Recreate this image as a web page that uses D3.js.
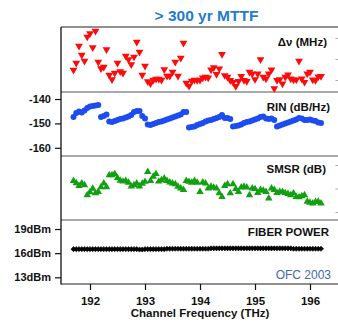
<!DOCTYPE html>
<html><head><meta charset="utf-8">
<script src="https://cdn.jsdelivr.net/npm/d3@7"></script>
<style>
html,body{margin:0;padding:0;background:#fff;}
svg{display:block;font-family:"Liberation Sans",Arial,sans-serif;}
</style></head>
<body>
<svg id="c" width="338" height="322"></svg>
<script>
// Channel frequencies (THz)
const freqs = [
191.70,191.75,191.80,191.85,191.90,191.95,192.00,192.05,192.10,192.15,
192.20,192.25,192.30,192.35,192.40,192.45,192.50,192.55,192.60,192.65,
192.70,192.75,192.80,192.85,192.90,192.95,193.00,193.05,193.10,193.15,
193.20,193.25,193.30,193.35,193.40,193.45,193.50,193.55,193.60,193.65,
193.70,193.75,193.80,193.85,193.90,193.95,194.00,194.05,194.10,194.15,
194.20,194.25,194.30,194.35,194.40,194.45,194.50,194.55,194.60,194.65,
194.70,194.75,194.80,194.85,194.90,194.95,195.00,195.05,195.10,195.15,
195.20,195.25,195.30,195.35,195.40,195.45,195.50,195.55,195.60,195.65,
195.70,195.75,195.80,195.85,195.90,195.95,196.00,196.05,196.10,196.15,
196.20];

// Linewidth Δν (MHz)
const linewidth = [
1.48,1.81,2.62,2.19,1.90,3.05,3.21,2.55,3.33,1.86,
1.55,1.62,2.45,1.24,1.02,1.33,1.81,1.40,1.33,2.14,
1.98,1.74,2.10,2.81,2.33,1.24,1.67,0.93,0.83,1.00,
1.05,1.05,1.00,1.50,1.19,1.19,1.38,1.86,1.19,2.05,
2.76,0.86,0.71,0.95,1.00,0.99,1.00,1.11,1.14,1.11,
1.49,1.59,1.27,1.54,2.22,1.22,1.14,0.99,0.90,0.70,
0.94,1.18,0.99,0.94,1.38,1.30,1.03,1.30,1.97,1.14,
1.06,1.30,1.49,0.60,0.99,1.03,0.82,1.14,1.25,1.06,
1.01,1.01,1.90,1.06,0.90,1.30,1.38,1.01,0.99,1.16,
1.18];

// RIN (dB/Hz)
const rin = [
-147.4,-145.7,-145.1,-145.5,-144.7,-143.7,-143.1,-142.9,-142.7,-142.5,
-147.4,-147.0,-146.4,-149.2,-149.4,-149.0,-148.6,-148.2,-148.0,-147.6,
-147.2,-146.6,-145.3,-144.9,-144.9,-147.0,-148.0,-150.5,-150.7,-150.2,
-149.8,-149.4,-149.2,-148.8,-148.4,-148.0,-147.6,-147.2,-146.8,-146.4,
-145.3,-145.3,-151.7,-151.5,-151.3,-150.7,-150.2,-149.8,-149.2,-148.8,
-148.6,-148.2,-147.8,-147.4,-146.6,-147.8,-147.8,-148.2,-151.3,-151.1,
-150.9,-150.5,-149.8,-149.4,-149.2,-148.8,-148.4,-148.0,-147.4,-147.2,
-148.0,-148.2,-148.0,-148.6,-151.3,-150.9,-150.5,-150.0,-149.6,-149.2,
-148.8,-148.4,-147.8,-148.0,-148.6,-148.6,-148.4,-148.8,-149.0,-149.6,
-149.8];

// SMSR (dB)
const smsr = [
43.3,42.3,41.1,42.2,41.5,37.2,38.5,40.0,38.0,38.6,
40.6,42.2,40.6,45.7,45.7,46.2,44.5,43.4,43.0,43.3,
42.5,40.9,41.5,42.2,40.9,42.1,42.9,47.1,43.3,45.1,
46.2,43.0,43.6,44.3,43.3,42.6,42.2,41.9,40.8,40.1,
39.4,43.3,42.9,42.5,43.3,42.5,38.6,42.6,42.2,40.1,
40.8,40.4,40.1,38.0,36.5,41.1,41.9,38.0,41.9,39.8,
38.6,40.5,40.8,40.5,37.2,40.1,39.8,38.2,39.4,39.1,
38.6,35.8,40.1,39.4,38.2,38.6,38.6,38.1,37.7,37.2,
38.0,36.5,36.3,36.8,37.2,34.4,34.0,33.7,34.3,34.4,
33.7];

// Fiber power (dBm)
const fiberPower = [
16.5,16.5,16.5,16.5,16.5,16.5,16.5,16.5,16.5,16.5,
16.5,16.5,16.5,16.5,16.5,16.5,16.5,16.5,16.5,16.5,
16.5,16.5,16.5,16.5,16.45,16.45,16.5,16.5,16.5,16.5,
16.5,16.5,16.5,16.5,16.55,16.55,16.55,16.55,16.55,16.55,
16.55,16.55,16.55,16.55,16.55,16.55,16.55,16.55,16.55,16.55,
16.6,16.6,16.6,16.6,16.6,16.6,16.6,16.6,16.6,16.6,
16.6,16.6,16.6,16.6,16.6,16.6,16.6,16.6,16.6,16.6,
16.6,16.6,16.6,16.6,16.6,16.6,16.6,16.6,16.6,16.6,
16.55,16.55,16.55,16.55,16.55,16.55,16.55,16.55,16.55,16.55,
16.55];

const xTicks = [192,193,194,195,196];
const rinTicks = [-140,-150,-160];
const powerTicks = [19,16,13];
const powerTickLabels = ["19dBm","16dBm","13dBm"];
const dvRightTicks = [1,2,3];
const smsrRightTicks = [30,40,50];

const svg = d3.select("#c");
const L = 61, R = 338;
const x = d3.scaleLinear().domain([191.4727,196.509]).range([L,R]);

const yDv = d3.scaleLinear().domain([0.43,3.52]).range([92,27]);
const yRin = d3.scaleLinear().domain([-163.36,-137.13]).range([156,92]);
const ySmsr = d3.scaleLinear().domain([26.6,53.83]).range([220,156]);
const yPow = d3.scaleLinear().domain([12.17,20.12]).range([284,220]);

// horizontal separators
[27,92,156,220,284].forEach(yy=>{
  svg.append("line").attr("x1",L).attr("x2",R).attr("y1",yy).attr("y2",yy)
    .attr("stroke",yy===284||yy===27?"#222":"#555").attr("stroke-width",1.2);
});
svg.append("line").attr("x1",L).attr("x2",L).attr("y1",27).attr("y2",284.6)
  .attr("stroke","#111").attr("stroke-width",1.3);

// right side faint ticks
function rightTicks(scale, ticks){
  svg.append("g").attr("transform",`translate(${R},0)`)
    .call(d3.axisLeft(scale).tickValues(ticks).tickSize(2.5).tickFormat(""))
    .call(g=>{g.select(".domain").remove(); g.selectAll("line").attr("stroke","#aaa");});
}
rightTicks(yDv, dvRightTicks);
rightTicks(ySmsr, smsrRightTicks);

// left axes
function leftAxis(scale, ticks, fmt){
  const g = svg.append("g").attr("transform",`translate(${L},0)`)
    .call(d3.axisLeft(scale).tickValues(ticks).tickSize(6).tickPadding(4).tickFormat(fmt));
  g.select(".domain").remove();
  g.selectAll("line").attr("stroke","#111").attr("stroke-width",1.2);
  g.selectAll("text").attr("font-family","Liberation Sans, Arial, sans-serif")
    .attr("font-size","11px").attr("font-weight","bold").attr("fill","#111");
}
leftAxis(yRin, rinTicks, d=>d3.format("d")(d).replace("−","-"));
leftAxis(yPow, powerTicks, (d,i)=>powerTickLabels[i]);

// x axis
const gx = svg.append("g").attr("transform","translate(0,284)")
  .call(d3.axisBottom(x).tickValues(xTicks).tickSize(6).tickPadding(7).tickFormat(d3.format("d")));
gx.select(".domain").remove();
gx.selectAll("line").attr("stroke","#111").attr("stroke-width",1.2);
gx.selectAll("text").attr("font-family","Liberation Sans, Arial, sans-serif")
  .attr("font-size","11.5px").attr("font-weight","bold").attr("fill","#111");

// marks
const sDown = d3.symbol().type(d3.symbolTriangle).size(26);
svg.append("g").selectAll("path").data(freqs).join("path")
  .attr("d",sDown())
  .attr("transform",(d,i)=>`translate(${x(d)},${yDv(linewidth[i])}) rotate(180)`)
  .attr("fill","#ff0a0a");

svg.append("g").selectAll("circle").data(freqs).join("circle")
  .attr("cx",d=>x(d)).attr("cy",(d,i)=>yRin(rin[i])).attr("r",3)
  .attr("fill","#1c4cf2");

const sUp = d3.symbol().type(d3.symbolTriangle).size(24);
svg.append("g").selectAll("path").data(freqs).join("path")
  .attr("d",sUp())
  .attr("transform",(d,i)=>`translate(${x(d)},${ySmsr(smsr[i])})`)
  .attr("fill","#10a010");

const sDia = d3.symbol().type(d3.symbolSquare).size(13);
svg.append("g").selectAll("path").data(freqs).join("path")
  .attr("d",sDia())
  .attr("transform",(d,i)=>`translate(${x(d)},${yPow(fiberPower[i])}) rotate(45)`)
  .attr("fill","#000").attr("stroke","#000").attr("stroke-width",0.6);

// texts
const txt = (s,xx,yy,opt={})=>svg.append("text").attr("x",xx).attr("y",yy)
  .attr("text-anchor",opt.anchor||"end")
  .attr("font-size",opt.size||"11.5px").attr("font-weight",opt.weight||"bold")
  .attr("fill",opt.fill||"#111").text(s);

txt("> 300 yr MTTF",206.5,21,{anchor:"middle",size:"15.5px",fill:"#1f7bd0"});
txt("Δν (MHz)",327,46);
txt("RIN (dB/Hz)",330,110.5);
txt("SMSR (dB)",326,173);
txt("FIBER POWER",329,235.5);
txt("OFC 2003",331,278.5,{size:"12px",weight:"normal",fill:"#3d6aa8"});
txt("Channel Frequency (THz)",200,316.5,{anchor:"middle",size:"11.5px"});
</script>
</body></html>
